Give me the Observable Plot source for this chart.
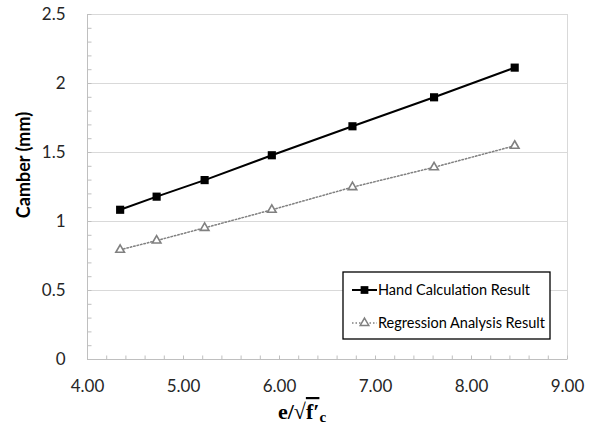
<!DOCTYPE html>
<html><head><meta charset="utf-8">
<script src="https://cdn.jsdelivr.net/npm/d3@7"></script>
<script src="https://cdn.jsdelivr.net/npm/@observablehq/plot@0.6"></script>
<style>
body{margin:0;background:#fff}
#chart{position:relative;width:593px;height:430px}
</style>
</head><body><div id="chart"></div>
<script>
// ---- data ----
const ratio = [4.34, 4.72, 5.22, 5.92, 6.76, 7.61, 8.45];           // e / sqrt(f'c)
const handCalc = [1.085, 1.18, 1.30, 1.48, 1.69, 1.90, 2.115];       // Hand Calculation Result (mm)
const regression = [0.795, 0.862, 0.954, 1.085, 1.249, 1.393, 1.549]; // Regression Analysis Result (mm)
const seriesNames = ["Hand Calculation Result", "Regression Analysis Result"];
const xTicks = [4, 5, 6, 7, 8, 9];
const yTicks = [0, 0.5, 1, 1.5, 2, 2.5];
const xMinor = d3.range(4, 9.001, 0.2);
const yMinor = d3.range(0, 2.5001, 0.1);
const yLabel = "Camber (mm)";

const hand = ratio.map((x, i) => ({x, y: handCalc[i]}));
const reg = ratio.map((x, i) => ({x, y: regression[i]}));

// small inward tick symbols for minor ticks
const tickUp = {draw(ctx) { ctx.moveTo(0, 0); ctx.lineTo(0, -4); }};
const tickRight = {draw(ctx) { ctx.moveTo(0, 0); ctx.lineTo(4, 0); }};

const chart = Plot.plot({
  width: 593, height: 430,
  marginLeft: 87, marginRight: 26, marginTop: 14, marginBottom: 71,
  style: {fontFamily: "Lato", fontSize: "17px", color: "#262626", background: "#fff"},
  x: {domain: [4, 9]},
  y: {domain: [0, 2.5]},
  marks: [
    Plot.ruleY(yTicks.slice(1), {stroke: "#d9d9d9", strokeWidth: 1}),
    Plot.ruleX([9], {stroke: "#d9d9d9", strokeWidth: 1}),
    Plot.dot(xMinor, {x: d => d, frameAnchor: "bottom", symbol: tickUp, stroke: "#bfbfbf", strokeWidth: 1}),
    Plot.dot(yMinor, {y: d => d, frameAnchor: "left", symbol: tickRight, stroke: "#bfbfbf", strokeWidth: 1}),
    Plot.axisX({ticks: xTicks, tickSize: 0, tickPadding: 20, tickFormat: d => d.toFixed(2), label: null}),
    Plot.axisY({ticks: yTicks, tickSize: 0, tickPadding: 22, tickFormat: d => String(d), label: null}),
    Plot.ruleX([4], {stroke: "#bfbfbf", strokeWidth: 1}),
    Plot.ruleY([0], {stroke: "#bfbfbf", strokeWidth: 1}),
    Plot.line(reg, {x: "x", y: "y", stroke: "#808080", strokeWidth: 1.5, strokeDasharray: "1.5,2"}),
    Plot.dot(reg, {x: "x", y: "y", symbol: "triangle", r: 3.2, stroke: "#808080", strokeWidth: 1.6, fill: "#fff"}),
    Plot.line(hand, {x: "x", y: "y", stroke: "#000", strokeWidth: 2}),
    Plot.dot(hand, {x: "x", y: "y", symbol: "square", r: 4.6, fill: "#000", stroke: "none"})
  ]
});
document.getElementById("chart").appendChild(chart);

const svg = d3.select(chart);

// y-axis title
svg.append("text")
  .attr("transform", "translate(30,165) rotate(-90)")
  .attr("text-anchor", "middle")
  .attr("font-family", "Lato").attr("font-weight", "bold").attr("font-size", 18)
  .attr("fill", "#000")
  .text(yLabel);

// x-axis title: e/√f′c
const xt = svg.append("text")
  .attr("x", 302).attr("y", 419)
  .attr("text-anchor", "middle")
  .attr("font-family", "Liberation Serif").attr("font-weight", "bold").attr("font-size", 22)
  .attr("fill", "#000");
xt.append("tspan").text("e/√");
xt.append("tspan").attr("text-decoration", "overline").text("f′");
xt.append("tspan").attr("font-size", 15).attr("dy", 3).text("c");

// legend
const lg = svg.append("g").attr("transform", "translate(343,272)");
lg.append("rect").attr("width", 207).attr("height", 67)
  .attr("fill", "#fff").attr("stroke", "#000").attr("stroke-width", 1.3);
const rows = [
  {name: seriesNames[0], y: 18, stroke: "#000", w: 2, dash: null, sym: d3.symbolSquare, size: 60, fill: "#000"},
  {name: seriesNames[1], y: 51, stroke: "#808080", w: 1.5, dash: "1.5,2", sym: d3.symbolTriangle, size: 32, fill: "#fff"}
];
rows.forEach(r => {
  const g = lg.append("g").attr("transform", `translate(0,${r.y})`);
  g.append("line").attr("x1", 9).attr("x2", 34).attr("stroke", r.stroke)
    .attr("stroke-width", r.w).attr("stroke-dasharray", r.dash);
  g.append("path").attr("transform", "translate(21.5,0)")
    .attr("d", d3.symbol(r.sym, r.size)())
    .attr("fill", r.fill).attr("stroke", r.fill === "#000" ? "none" : r.stroke).attr("stroke-width", 1.5);
  g.append("text").attr("x", 35).attr("dy", "0.35em")
    .attr("text-anchor", "start")
    .attr("font-family", "Lato").attr("font-size", 14.5).attr("fill", "#000")
    .text(r.name);
});
</script>
</body></html>
